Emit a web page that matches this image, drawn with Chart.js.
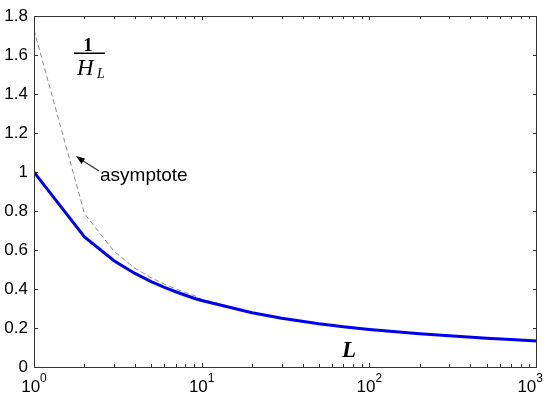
<!DOCTYPE html>
<html>
<head>
<meta charset="utf-8">
<script src="https://cdn.jsdelivr.net/npm/chart.js@4"></script>
<style>
  html, body { margin: 0; padding: 0; background: #fff; }
  #wrap { width: 550px; height: 395px; }
</style>
</head>
<body>
<div id="wrap"><canvas id="myChart"></canvas></div>
<script>
// values
const lValues = [1, 2, 3, 4, 5, 6, 7, 8, 9, 10, 20, 30, 50, 70, 100, 200, 300, 500, 700, 1000];
const invHarmonic = [1, 0.667, 0.545, 0.48, 0.438, 0.408, 0.386, 0.368, 0.353, 0.341,
                     0.278, 0.250, 0.222, 0.207, 0.193, 0.171, 0.160, 0.148, 0.141, 0.134];
const asymptote = [1.73, 0.787, 0.594, 0.507, 0.458, 0.425, 0.401, 0.382, 0.367, 0.348,
                   0.280, 0.251, 0.223, 0.207, 0.193, 0.171, 0.159, 0.147, 0.140, 0.134];
const yTicks = [0, 0.2, 0.4, 0.6, 0.8, 1, 1.2, 1.4, 1.6, 1.8];
const xTickExponents = [0, 1, 2, 3];

const axisColor = '#333';
const sans = '"Liberation Sans", Arial, sans-serif';
const serif = '"Liberation Serif", "Times New Roman", serif';
const ctx = document.getElementById('myChart');

// MATLAB style box with inward ticks and 10^n labels
const matlabAxes = {
  id: 'matlabAxes',
  afterDatasetsDraw(chart) {
    const c = chart.ctx;
    const a = chart.chartArea;
    const xs = chart.scales.x, ys = chart.scales.y;
    c.save();
    c.strokeStyle = axisColor;
    c.lineWidth = 1;
    c.strokeRect(Math.round(a.left) + 0.5, Math.round(a.top) + 0.5,
                 Math.round(a.right - a.left) - 1, Math.round(a.bottom - a.top));
    c.beginPath();
    // y ticks, left and right
    yTicks.forEach(v => {
      const y = Math.round(ys.getPixelForValue(v)) + 0.5;
      c.moveTo(a.left, y); c.lineTo(a.left + 4, y);
      c.moveTo(a.right, y); c.lineTo(a.right - 4, y);
    });
    // x ticks, major and minor, bottom and top
    for (let e = 0; e < 3; e++) {
      for (let m = 1; m <= 9; m++) {
        const x = Math.round(xs.getPixelForValue(m * Math.pow(10, e))) + 0.5;
        const len = m === 1 ? 4 : 3;
        c.moveTo(x, a.bottom); c.lineTo(x, a.bottom - len);
        c.moveTo(x, a.top); c.lineTo(x, a.top + len);
      }
    }
    c.stroke();

    // x labels 10^n
    c.fillStyle = '#000';
    c.textBaseline = 'alphabetic';
    xTickExponents.forEach(e => {
      const x = xs.getPixelForValue(Math.pow(10, e));
      c.font = '17px ' + sans;
      const w1 = c.measureText('10').width;
      c.font = '12px ' + sans;
      const w2 = c.measureText(String(e)).width;
      let x0 = x - (w1 + w2) / 2;
      x0 = Math.min(x0, chart.width - w1 - w2 - 7);
      c.font = '17px ' + sans;
      c.fillText('10', x0, a.bottom + 25);
      c.font = '12px ' + sans;
      c.fillText(String(e), x0 + w1, a.bottom + 15);
    });

    // annotations
    c.font = 'bold 19px ' + serif;
    c.textAlign = 'center';
    c.fillText('1', 88, 51);
    c.fillRect(74, 52.5, 31, 1.5);
    c.font = 'italic 23px ' + serif;
    c.textAlign = 'left';
    c.fillText('H', 77, 75);
    c.font = 'italic 14px ' + serif;
    c.fillText('L', 97, 78);

    c.font = '19px ' + sans;
    c.fillText('asymptote', 100, 181);
    c.lineWidth = 1.2;
    c.beginPath();
    c.moveTo(99, 171); c.lineTo(80, 159);
    c.stroke();
    c.beginPath();
    c.moveTo(76, 156); c.lineTo(85, 158.5); c.lineTo(81.5, 164);
    c.closePath(); c.fill();

    c.font = 'bold italic 23px ' + serif;
    c.fillText('L', 342, 357);
    c.restore();
  }
};

new Chart(ctx, {
  type: 'line',
  data: {
    labels: lValues,
    datasets: [{
      label: '1/H_L',
      data: invHarmonic,
      borderColor: '#0000ee',
      borderWidth: 3,
      pointRadius: 0,
      tension: 0,
      order: 0
    }, {
      label: 'asymptote',
      data: asymptote,
      borderColor: '#8c8c8c',
      borderWidth: 1,
      borderDash: [5, 3],
      pointRadius: 0,
      tension: 0,
      order: 1
    }]
  },
  options: {
    responsive: true,
    maintainAspectRatio: false,
    animation: false,
    layout: { padding: { top: 7, right: 13, left: 0, bottom: 0 } },
    plugins: { legend: { display: false }, tooltip: { enabled: false } },
    scales: {
      x: {
        type: 'logarithmic',
        min: 1, max: 1000,
        grid: { display: false, drawTicks: false },
        border: { display: false },
        ticks: { display: false },
        afterFit: s => { s.height = 28; }
      },
      y: {
        min: 0, max: 1.8,
        grid: { display: false, drawTicks: false },
        border: { display: false },
        afterBuildTicks: s => { s.ticks = yTicks.map(v => ({ value: v })); },
        ticks: {
          color: '#000',
          padding: 6,
          font: { family: sans, size: 17 },
          callback: v => String(Math.round(v * 10) / 10)
        },
        afterFit: s => { s.width = 34; }
      }
    }
  },
  plugins: [matlabAxes]
});
</script>
</body>
</html>
